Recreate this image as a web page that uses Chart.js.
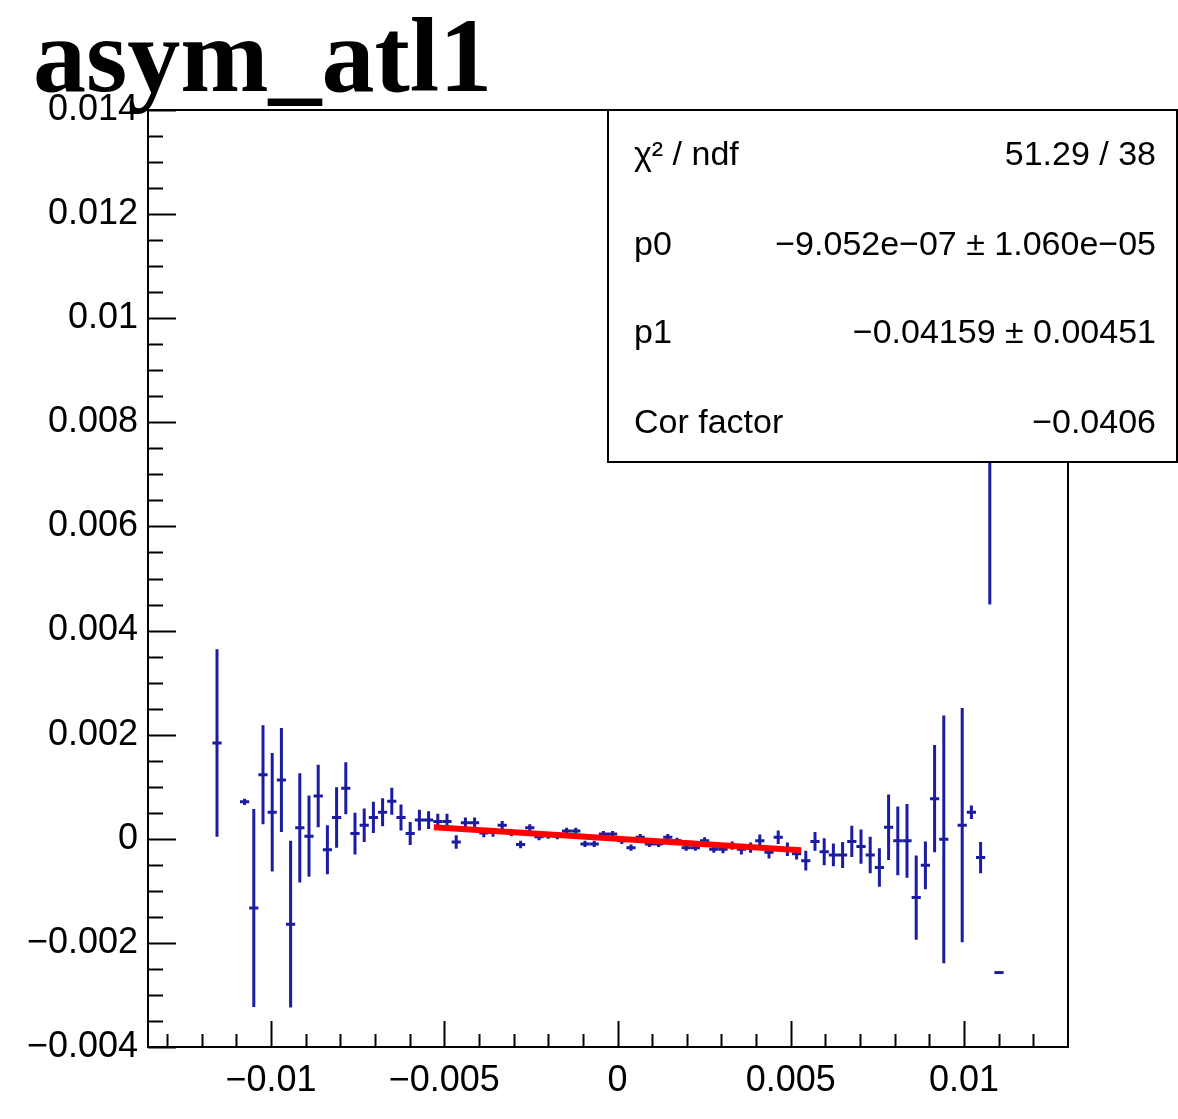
<!DOCTYPE html>
<html>
<head>
<meta charset="utf-8">
<script src="https://cdn.jsdelivr.net/npm/chart.js@4.4.1/dist/chart.umd.min.js"></script>
<style>
  html, body { margin: 0; padding: 0; background: #fff; }
  #wrap { width: 1178px; height: 1119px; position: relative; }
</style>
</head>
<body>
<div id="wrap"><canvas id="asymChart" width="1178" height="1119"></canvas></div>
<script>
/* =====================================================
   HISTOGRAM DATA (asym_atl1)
===================================================== */

// histogram binning
const xLow = -0.01355;
const xHigh = 0.0130;
const nBins = 100;

// filled bins (bin index, content, error)
const binIndex = [7, 10, 11, 12, 13, 14, 15, 16, 17, 18, 19, 20, 21, 22, 23, 24, 25, 26, 27, 28,
  29, 30, 31, 32, 33, 34, 35, 36, 37, 38, 39, 40, 41, 42, 43, 44, 45, 46, 47, 48,
  49, 50, 51, 52, 53, 54, 55, 56, 57, 58, 59, 60, 61, 62, 63, 64, 65, 66, 67, 68,
  69, 70, 71, 72, 73, 74, 75, 76, 77, 78, 79, 80, 81, 82, 83, 84, 85, 86, 88, 89,
  90, 91, 92];

const yValues = [0.00184, 0.00071, -0.00133, 0.00123, 0.00051, 0.00113, -0.00164, 0.00021, 0.00005, 0.00082,
  -0.00021, 0.00041, 0.00097, 0.00010, 0.00026, 0.00041, 0.00051, 0.00072, 0.00041, 0.00010,
  0.00036, 0.00036, 0.00033, 0.00033, -0.00006, 0.00031, 0.00031, 0.00011, 0.00012, 0.00026,
  0.00012, -0.00011, 0.00021, 0.00004, 0.00006, 0.00005, 0.00015, 0.00015, -0.00010, -0.00010,
  0.00009, 0.00009, -0.00004, -0.00017, 0.00003, -0.00010, -0.00010, 0.00003, -0.00004, -0.00017,
  -0.00017, -0.00004, -0.00020, -0.00020, -0.00013, -0.00020, -0.00017, -0.00004, -0.00026, 0.00003,
  -0.00020, -0.00029, -0.00042, -0.00005, -0.00025, -0.00031, -0.00031, -0.00005, -0.00015, -0.00031,
  -0.00055, 0.00022, -0.00004, -0.00004, -0.00113, -0.00051, 0.00077, -0.00001, 0.00026, 0.00051,
  -0.00036, 0.00850, -0.00257];

const yErrors = [0.00180, 0.00006, 0.00190, 0.00095, 0.00114, 0.00100, 0.00160, 0.00105, 0.00078, 0.00060,
  0.00047, 0.00058, 0.00050, 0.00040, 0.00032, 0.00030, 0.00027, 0.00026, 0.00025, 0.00022,
  0.00020, 0.00017, 0.00015, 0.00015, 0.00013, 0.00010, 0.00010, 0.00008, 0.00008, 0.00008,
  0.00007, 0.00007, 0.00007, 0.00007, 0.00006, 0.00006, 0.00006, 0.00006, 0.00006, 0.00006,
  0.00006, 0.00006, 0.00006, 0.00006, 0.00006, 0.00006, 0.00006, 0.00006, 0.00006, 0.00006,
  0.00006, 0.00007, 0.00007, 0.00008, 0.00008, 0.00010, 0.00010, 0.00012, 0.00012, 0.00013,
  0.00013, 0.00011, 0.00019, 0.00018, 0.00026, 0.00022, 0.00025, 0.00030, 0.00033, 0.00035,
  0.00037, 0.00063, 0.00066, 0.00071, 0.00081, 0.00046, 0.00103, 0.00238, 0.00225, 0.00013,
  0.00030, 0.00400, 0];

// linear fit pol1
const fitP0 = -9.052e-07;
const fitP1 = -0.04159;
const fitRange = [-0.0053, 0.0053];

// axes
const xTickValues = [-0.01, -0.005, 0, 0.005, 0.01];
const yTickValues = [-0.004, -0.002, 0, 0.002, 0.004, 0.006, 0.008, 0.01, 0.012, 0.014];
const xMinorStep = 0.001;
const yMinorStep = 0.0005;
const yMin = -0.004;
const yMax = 0.014;

// stats box
const statsLines = [
  ["\u03c7\u00b2 / ndf", "51.29 / 38"],
  ["p0", "\u22129.052e\u221207 \u00b1 1.060e\u221205"],
  ["p1", "\u22120.04159 \u00b1 0.00451"],
  ["Cor factor", "\u22120.0406"]
];


/* =====================================================
   BUILD POINTS
===================================================== */

const binWidth = (xHigh - xLow) / nBins;

const points = binIndex.map((b, i) => ({
  x: xLow + (b + 0.5) * binWidth,
  y: yValues[i],
  ey: yErrors[i]
}));

const fitPoints = fitRange.map(x => ({ x: x, y: fitP0 + fitP1 * x }));

const dataColor = "#1c1ca0";
const axisFont = "'Liberation Sans', Arial, sans-serif";

function fmtTick(v) {
  const s = String(Number(v.toFixed(4)));
  return s.replace("-", "\u2212");
}


/* =====================================================
   PLUGINS: ERROR BARS, FRAME + TICKS, TITLE, STATS
===================================================== */

const errorBars = {
  id: "errorBars",
  beforeDatasetsDraw(chart) {
    const ctx = chart.ctx;
    const xs = chart.scales.x, ys = chart.scales.y;
    const area = chart.chartArea;
    ctx.save();
    ctx.beginPath();
    ctx.rect(area.left, area.top, area.right - area.left, area.bottom - area.top);
    ctx.clip();
    ctx.strokeStyle = dataColor;
    ctx.lineWidth = 3;
    points.forEach(p => {
      const px = xs.getPixelForValue(p.x);
      const py = ys.getPixelForValue(p.y);
      const x0 = xs.getPixelForValue(p.x - binWidth / 2);
      const x1 = xs.getPixelForValue(p.x + binWidth / 2);
      ctx.beginPath();
      ctx.moveTo(x0, py);
      ctx.lineTo(x1, py);
      if (p.ey > 0) {
        ctx.moveTo(px, ys.getPixelForValue(p.y + p.ey));
        ctx.lineTo(px, ys.getPixelForValue(p.y - p.ey));
      }
      ctx.stroke();
    });
    ctx.restore();
  }
};

const frameAndTicks = {
  id: "frameAndTicks",
  afterDraw(chart) {
    const ctx = chart.ctx;
    const xs = chart.scales.x, ys = chart.scales.y;
    const a = chart.chartArea;
    ctx.save();
    ctx.strokeStyle = "#000";
    ctx.lineWidth = 2;

    // y ticks (inside frame)
    const nY = Math.round((yMax - yMin) / yMinorStep);
    for (let k = 0; k <= nY; k++) {
      const v = yMin + k * yMinorStep;
      const major = k % 4 === 0;
      const py = Math.round(ys.getPixelForValue(v)) + 0.5;
      ctx.beginPath();
      ctx.moveTo(a.left, py);
      ctx.lineTo(a.left + (major ? 28 : 15), py);
      ctx.stroke();
    }

    // x ticks (inside frame)
    for (let k = -13; k <= 12; k++) {
      const v = k * xMinorStep;
      const major = k % 5 === 0;
      const px = Math.round(xs.getPixelForValue(v)) + 0.5;
      ctx.beginPath();
      ctx.moveTo(px, a.bottom);
      ctx.lineTo(px, a.bottom - (major ? 26 : 13));
      ctx.stroke();
    }

    // frame
    ctx.strokeRect(a.left, a.top, a.right - a.left, a.bottom - a.top);

    // title
    ctx.fillStyle = "#000";
    ctx.font = "bold 106px 'Liberation Serif', 'Times New Roman', serif";
    ctx.textAlign = "left";
    ctx.textBaseline = "alphabetic";
    ctx.fillText("asym_atl1", 33, 91);

    // stats box
    const bx = 608, by = 110, bw = 1177 - 608, bh = 462 - 110;
    ctx.fillStyle = "#fff";
    ctx.fillRect(bx, by, bw, bh);
    ctx.strokeRect(bx, by, bw, bh);
    ctx.fillStyle = "#000";
    ctx.font = "34px " + axisFont;
    const baselines = [165, 255, 343, 433];
    statsLines.forEach((row, i) => {
      ctx.textAlign = "left";
      ctx.fillText(row[0], 634, baselines[i]);
      ctx.textAlign = "right";
      ctx.fillText(row[1], 1156, baselines[i]);
    });
    ctx.restore();
  }
};


/* =====================================================
   CHART
===================================================== */

new Chart(document.getElementById("asymChart"), {
  type: "scatter",
  data: {
    datasets: [
      {
        label: "fit",
        data: fitPoints,
        showLine: true,
        borderColor: "#ff0000",
        borderWidth: 6,
        pointRadius: 0,
        fill: false
      }
    ]
  },
  options: {
    responsive: false,
    animation: false,
    devicePixelRatio: 1,
    layout: { padding: { top: 110, right: 110, left: 0, bottom: 0 } },
    plugins: {
      legend: { display: false },
      tooltip: { enabled: false },
      title: { display: false }
    },
    scales: {
      x: {
        type: "linear",
        min: xLow,
        max: xHigh,
        grid: { display: false, drawTicks: false },
        border: { display: false },
        afterBuildTicks: scale => { scale.ticks = xTickValues.map(v => ({ value: v })); },
        afterFit: scale => { scale.height = 72; },
        ticks: {
          padding: 12,
          maxRotation: 0,
          autoSkip: false,
          color: "#000",
          font: { family: axisFont, size: 36 },
          callback: v => fmtTick(v)
        }
      },
      y: {
        type: "linear",
        min: yMin,
        max: yMax,
        grid: { display: false, drawTicks: false },
        border: { display: false },
        afterBuildTicks: scale => { scale.ticks = yTickValues.map(v => ({ value: v })); },
        afterFit: scale => { scale.width = 148; },
        ticks: {
          padding: 10,
          autoSkip: false,
          color: "#000",
          font: { family: axisFont, size: 36 },
          callback: v => fmtTick(v)
        }
      }
    }
  },
  plugins: [errorBars, frameAndTicks]
});
</script>
</body>
</html>
